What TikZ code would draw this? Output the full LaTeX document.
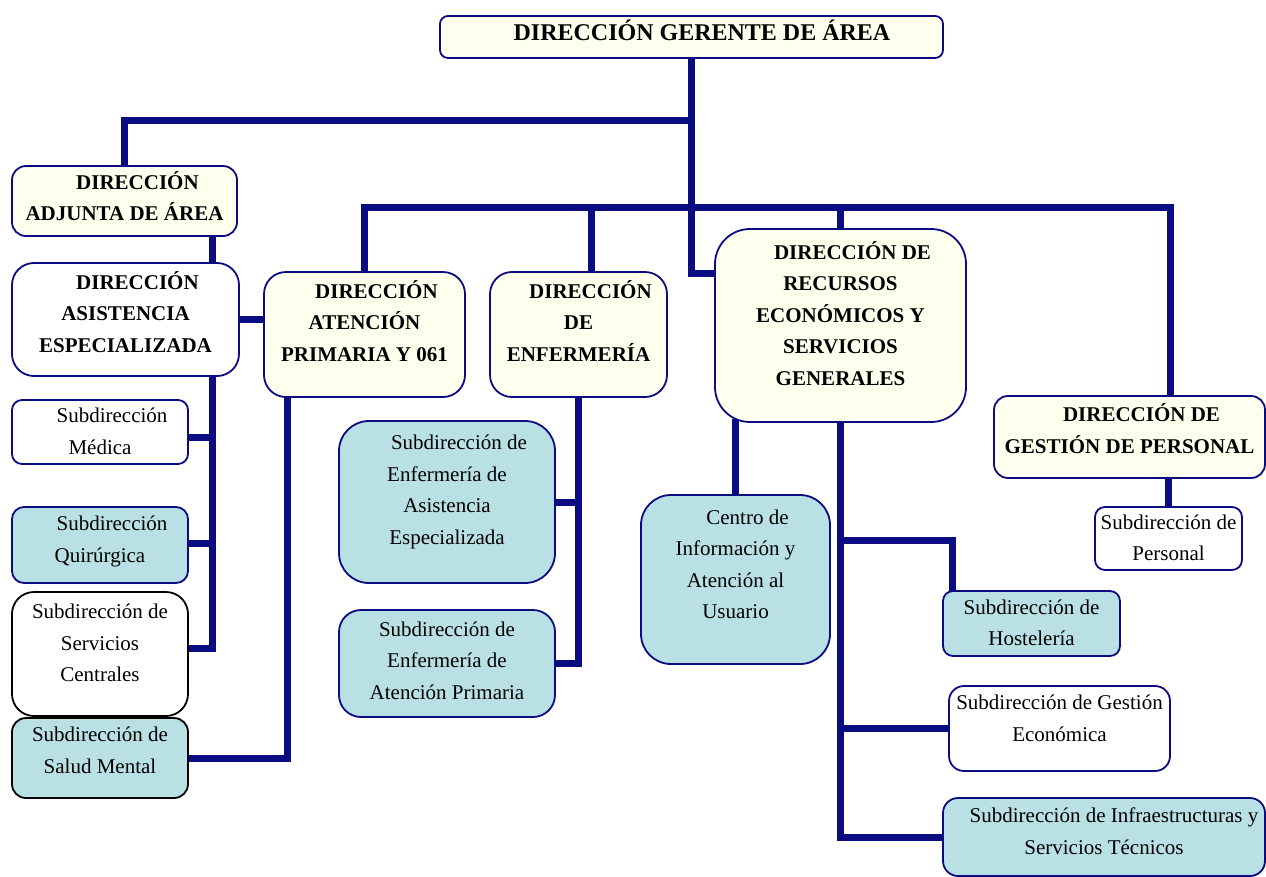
\documentclass[tikz,border=0pt]{standalone}
\usepackage{fontspec}
\setmainfont{Liberation Serif}
\usetikzlibrary{backgrounds}
\definecolor{navy}{RGB}{12,12,130}
\definecolor{cream}{RGB}{255,255,238}
\definecolor{lblue}{RGB}{185,224,228}
\newcommand\tl[2]{\raisebox{#1}[\height][\depth]{\begin{tabular}{@{}c@{}}#2\end{tabular}}}
\tikzset{
  box/.style={draw=navy, line width=1.8pt, inner sep=0pt},
  bx/.style={box, font=\fontsize{21}{31.5}\selectfont\bfseries},
  rx/.style={box, font=\fontsize{21}{31.5}\selectfont},
  conn/.style={draw=navy, line width=7pt, line cap=rect, line join=miter},
}
\begin{document}
\begin{tikzpicture}[x=1pt,y=-1pt]
\useasboundingbox (0,0) rectangle (1266,876);

% level 0
\node[box,fill=cream,rounded corners=8pt,minimum width=503pt,minimum height=42pt,font=\fontsize{24}{30}\selectfont\bfseries] (top) at (691.5,37) {\tl{3pt}{\hspace*{21pt}DIRECCIÓN GERENTE DE ÁREA}};

% left column
\node[bx,fill=cream,rounded corners=14pt,minimum width=225pt,minimum height=70pt] (adj) at (124.5,201) {\tl{2.5pt}{\hspace*{26pt}DIRECCIÓN\\ADJUNTA DE ÁREA}};
\node[bx,fill=white,rounded corners=22pt,minimum width=227pt,minimum height=113pt] (asis) at (125.5,319.5) {\tl{5pt}{\hspace*{24pt}DIRECCIÓN\\ASISTENCIA\\ESPECIALIZADA}};
\node[rx,fill=white,rounded corners=10pt,minimum width=176pt,minimum height=64pt] (med) at (100,432) {\tl{0pt}{\hspace*{24pt}Subdirección\\Médica}};
\node[rx,fill=lblue,rounded corners=12pt,minimum width=176pt,minimum height=76pt] (qui) at (100,545) {\tl{5pt}{\hspace*{24pt}Subdirección\\Quirúrgica}};
\node[rx,draw=black,fill=white,rounded corners=22pt,minimum width=176pt,minimum height=124pt] (serv) at (100,654) {\tl{10pt}{Subdirección de\\Servicios\\Centrales}};
\node[rx,draw=black,fill=lblue,rounded corners=14pt,minimum width=176pt,minimum height=80pt] (salud) at (100,758) {\tl{7pt}{Subdirección de\\Salud Mental}};

% second level directors
\node[bx,fill=cream,rounded corners=22pt,minimum width=201pt,minimum height=125pt] (ap) at (364.5,334.5) {\tl{11pt}{\hspace*{24pt}DIRECCIÓN\\ATENCIÓN\\PRIMARIA Y 061}};
\node[bx,fill=cream,rounded corners=22pt,minimum width=177pt,minimum height=125pt] (enf) at (578.5,334.5) {\tl{11pt}{\hspace*{24pt}DIRECCIÓN\\DE\\ENFERMERÍA}};
\node[bx,fill=cream,rounded corners=35pt,minimum width=251pt,minimum height=193pt] (rec) at (840.5,325.5) {\tl{9.5pt}{\hspace*{24pt}DIRECCIÓN DE\\RECURSOS\\ECONÓMICOS Y\\SERVICIOS\\GENERALES}};
\node[bx,fill=cream,rounded corners=14pt,minimum width=271pt,minimum height=82pt] (gp) at (1129.5,437) {\tl{6pt}{\hspace*{24pt}DIRECCIÓN DE\\GESTIÓN DE PERSONAL}};

% subdirections
\node[rx,fill=white,rounded corners=10pt,minimum width=147pt,minimum height=63pt] (pers) at (1168.5,538.5) {\tl{0pt}{Subdirección de\\Personal}};
\node[rx,fill=lblue,rounded corners=30pt,minimum width=216pt,minimum height=162pt] (eas) at (447,502) {\tl{11.5pt}{\hspace*{24pt}Subdirección de\\Enfermería de\\Asistencia\\Especializada}};
\node[rx,fill=lblue,rounded corners=22pt,minimum width=216pt,minimum height=107pt] (eap) at (447,663.5) {\tl{2pt}{Subdirección de\\Enfermería de\\Atención Primaria}};
\node[rx,fill=lblue,rounded corners=30pt,minimum width=189pt,minimum height=169pt] (cen) at (735.5,579.5) {\tl{14.5pt}{\hspace*{24pt}Centro de\\Información y\\Atención al\\Usuario}};
\node[rx,fill=lblue,rounded corners=10pt,minimum width=177pt,minimum height=65pt] (host) at (1031.5,623.5) {\tl{0pt}{Subdirección de\\Hostelería}};
\node[rx,fill=white,rounded corners=15pt,minimum width=221pt,minimum height=85pt] (gec) at (1059.5,728.5) {\tl{9.5pt}{Subdirección de Gestión\\Económica}};
\node[rx,fill=lblue,rounded corners=15pt,minimum width=322pt,minimum height=78pt] (inf) at (1104,837) {\tl{5pt}{\hspace*{20pt}Subdirección de Infraestructuras y\\Servicios Técnicos}};

\begin{pgfonlayer}{background}
\fill[white] (0,0) rectangle (1266,876);
\draw[conn] (top.south) |- ([yshift=52.5pt]rec.west);
\coordinate (h1) at (691.5,120);
\draw[conn] (h1) -| (adj.north);
\coordinate (h2) at (691.5,207);
\draw[conn] (ap.north) |- (h2);
\draw[conn] (h2) -| ([xshift=40.5pt]gp.north);
\draw[conn] ([xshift=12.5pt]enf.north) |- (h2);
\draw[conn] (rec.north) |- (h2);
\draw[conn] ([xshift=87.5pt]adj.south) -- ([xshift=86.5pt]asis.north);
\draw[conn] ([xshift=86.5pt]asis.south) |- ([yshift=6pt]serv.east);
\draw[conn] ([yshift=-5pt]med.east) -- ++(24,0);
\draw[conn] ([yshift=2pt]qui.east) -- ++(24,0);
\draw[conn] (asis.east) -- (ap.west |- asis.east);
\draw[conn] ([xshift=-77.5pt]ap.south) |- (salud.east);
\draw[conn] (enf.south) |- (eap.east);
\draw[conn] (eas.east) -- (enf.south |- eas.east);
\draw[conn] (cen.north) -- (cen.north |- rec.south);
\draw[conn] (rec.south) |- (inf.west);
\draw[conn] (gec.west) -- (rec.south |- gec.west);
\coordinate (hy) at (840.5,540);
\draw[conn] ([xshift=-79.5pt]host.north) |- (hy);
\draw[conn] (pers.north) -- (pers.north |- gp.south);
\end{pgfonlayer}
\end{tikzpicture}
\end{document}
